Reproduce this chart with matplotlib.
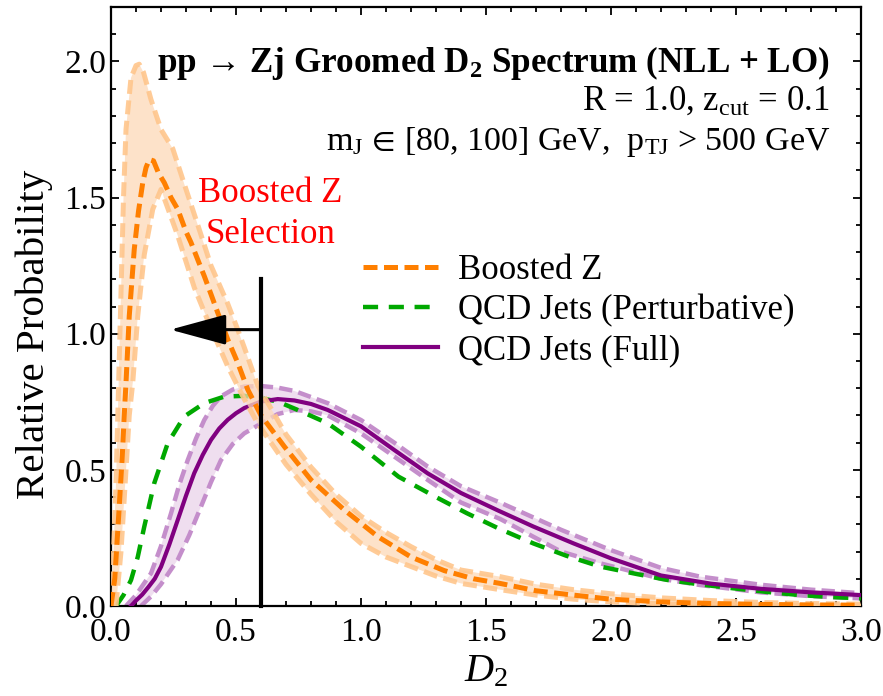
import numpy as np
import matplotlib.pyplot as plt
from matplotlib.ticker import MultipleLocator

plt.rcParams['font.family'] = ['Liberation Serif', 'DejaVu Serif']
plt.rcParams['mathtext.fontset'] = 'custom'
plt.rcParams['mathtext.rm'] = 'Liberation Serif'
plt.rcParams['mathtext.it'] = 'Liberation Serif:italic'
plt.rcParams['mathtext.bf'] = 'Liberation Serif:bold'
plt.rcParams['mathtext.fallback'] = 'stix'

# boosted Z signal: central curve and upper / lower edges of the uncertainty band
z_x = [0.00, 0.015, 0.03, 0.045, 0.053, 0.06, 0.073, 0.093, 0.11, 0.127, 0.14, 0.153, 0.17, 0.19,
       0.213, 0.24, 0.267, 0.30, 0.32, 0.35, 0.373, 0.40, 0.427, 0.467, 0.507, 0.547, 0.60, 0.693,
       0.80, 0.933, 1.067, 1.20, 1.333, 1.45, 1.556, 1.70, 1.85, 2.00, 2.20, 2.40, 2.60, 2.80, 3.00]
z_mid = [0.00, 0.10, 0.32, 0.55, 0.70, 0.82, 1.065, 1.31, 1.45, 1.555, 1.61, 1.64, 1.635, 1.59,
         1.555, 1.50, 1.457, 1.375, 1.335, 1.265, 1.212, 1.145, 1.077, 0.979, 0.893, 0.795, 0.70, 0.586,
         0.463, 0.353, 0.255, 0.18, 0.13, 0.10, 0.083, 0.056, 0.04, 0.025, 0.015, 0.009, 0.006, 0.004, 0.003]

z_up_x = [0.00, 0.01, 0.02, 0.03, 0.04, 0.05, 0.06, 0.08, 0.10, 0.113, 0.13, 0.16, 0.20, 0.247,
          0.293, 0.347, 0.40, 0.467, 0.507, 0.533, 0.587, 0.70, 0.80, 0.90, 1.00, 1.10, 1.20, 1.30,
          1.40, 1.556, 1.70, 1.85, 2.00, 2.20, 2.40, 2.60, 2.80, 3.00]
z_up = [0.00, 0.20, 0.45, 0.80, 1.15, 1.50, 1.75, 1.94, 1.985, 1.99, 1.96, 1.86, 1.75, 1.68,
        1.55, 1.40, 1.25, 1.11, 1.015, 0.95, 0.81, 0.63, 0.51, 0.41, 0.33, 0.27, 0.218, 0.17,
        0.132, 0.108, 0.08, 0.06, 0.045, 0.03, 0.02, 0.013, 0.009, 0.007]

z_lo_x = [0.02, 0.04, 0.06, 0.073, 0.087, 0.107, 0.133, 0.167, 0.20, 0.267, 0.333, 0.40, 0.467,
          0.533, 0.587, 0.70, 0.80, 0.90, 1.00, 1.10, 1.20, 1.30, 1.40, 1.556, 1.70, 1.85, 2.00,
          2.20, 2.40, 2.60, 2.80, 3.00]
z_lo = [0.00, 0.20, 0.50, 0.70, 0.82, 1.065, 1.29, 1.457, 1.53, 1.36, 1.17, 1.02, 0.88,
        0.76, 0.67, 0.52, 0.41, 0.31, 0.23, 0.18, 0.145, 0.11, 0.083, 0.06, 0.04, 0.025, 0.015,
        0.008, 0.004, 0.002, 0.001, 0.0]

# QCD jets, full calculation with band
q_x = [0.08, 0.10, 0.125, 0.15, 0.175, 0.20, 0.233, 0.267, 0.30, 0.333, 0.367, 0.40, 0.433, 0.467,
       0.50, 0.533, 0.60, 0.667, 0.733, 0.80, 0.867, 1.00, 1.133, 1.267, 1.40, 1.55, 1.689, 1.85,
       2.00, 2.20, 2.40, 2.60, 2.80, 3.00]
q_mid = [0.0, 0.02, 0.042, 0.07, 0.10, 0.144, 0.225, 0.316, 0.405, 0.488, 0.555, 0.61, 0.652, 0.684,
         0.708, 0.727, 0.751, 0.76, 0.755, 0.742, 0.72, 0.66, 0.573, 0.487, 0.415, 0.35, 0.292, 0.23,
         0.175, 0.112, 0.082, 0.063, 0.05, 0.04]

q_up_x = [0.06, 0.10, 0.16, 0.20, 0.24, 0.273, 0.307, 0.34, 0.373, 0.407, 0.44, 0.487, 0.533, 0.60,
          0.667, 0.733, 0.867, 1.00, 1.133, 1.267, 1.40, 1.556, 1.80, 2.00, 2.20, 2.356, 2.60,
          2.80, 3.00]
q_up = [0.0, 0.04, 0.12, 0.22, 0.34, 0.445, 0.536, 0.615, 0.683, 0.735, 0.77, 0.795, 0.806, 0.808,
        0.802, 0.79, 0.745, 0.683, 0.60, 0.512, 0.44, 0.38, 0.28, 0.205, 0.14, 0.108, 0.078,
        0.06, 0.047]

q_lo_x = [0.12, 0.16, 0.20, 0.267, 0.313, 0.36, 0.40, 0.44, 0.487, 0.533, 0.60, 0.667, 0.733, 0.80,
          0.867, 1.00, 1.133, 1.267, 1.40, 1.556, 1.80, 1.956, 2.20, 2.356, 2.60, 2.80, 3.00]
q_lo = [0.0, 0.035, 0.08, 0.17, 0.26, 0.365, 0.455, 0.536, 0.595, 0.634, 0.67, 0.705, 0.72, 0.715,
        0.70, 0.634, 0.549, 0.463, 0.38, 0.32, 0.20, 0.157, 0.10, 0.077, 0.05, 0.036, 0.028]

# QCD jets, perturbative only
g_x = [0.02, 0.05, 0.08, 0.107, 0.133, 0.173, 0.227, 0.293, 0.373, 0.453, 0.533, 0.60, 0.667, 0.747,
       0.867, 1.00, 1.15, 1.30, 1.423, 1.55, 1.689, 1.82, 1.956, 2.10, 2.223, 2.35, 2.489, 2.62,
       2.756, 2.88, 3.00]
g_y = [0.0, 0.04, 0.095, 0.18, 0.291, 0.451, 0.598, 0.696, 0.745, 0.769, 0.772, 0.763, 0.751, 0.72,
       0.671, 0.585, 0.475, 0.40, 0.341, 0.285, 0.23, 0.185, 0.145, 0.118, 0.096, 0.08, 0.065,
       0.052, 0.04, 0.033, 0.028]

d2_cut = 0.6

orange = '#ff7f00'
orange_band = '#fdd9b8'
orange_edge = '#ffc68c'
purple = '#800080'
purple_band = '#ebd6eb'
purple_edge = '#c48ecb'
green = '#00a800'

fig = plt.figure(figsize=(8.83, 6.96), dpi=100)
ax = fig.add_axes([111 / 883, 1 - 606 / 696, 750 / 883, 599 / 696])

# QCD band
ax.fill(np.concatenate([q_up_x, q_lo_x[::-1]]), np.concatenate([q_up, q_lo[::-1]]),
        color=purple_band, alpha=0.8, lw=0, zorder=1)
ax.plot(q_up_x, q_up, color=purple_edge, lw=3.2, dashes=(3, 1.4), zorder=2)
ax.plot(q_lo_x, q_lo, color=purple_edge, lw=3.2, dashes=(3, 1.4), zorder=2)

ax.plot(g_x, g_y, color=green, lw=3.2, dashes=(3.4, 2.4), zorder=3, label='QCD Jets (Perturbative)')
ax.plot(q_x, q_mid, color=purple, lw=3.0, zorder=3, label='QCD Jets (Full)')

# signal band, drawn over the QCD curves
ax.fill(np.concatenate([z_up_x, z_lo_x[::-1]]), np.concatenate([z_up, z_lo[::-1]]),
        color=orange_band, alpha=0.75, lw=0, zorder=4)
ax.plot(z_up_x, z_up, color=orange_edge, lw=3.6, dashes=(2.8, 1.3), alpha=0.9, zorder=5)
ax.plot(z_lo_x, z_lo, color=orange_edge, lw=3.6, dashes=(2.8, 1.3), alpha=0.9, zorder=5)
ax.plot(z_x, z_mid, color=orange, lw=3.6, dashes=(2.8, 1.3), zorder=6, label='Boosted Z')

# selection cut and arrow
ax.plot([d2_cut, d2_cut], [0, 1.2], color='black', lw=3.0, zorder=7, clip_on=False)
ax.annotate('', xy=(0.237, 1.015), xytext=(d2_cut, 1.015),
            arrowprops=dict(arrowstyle='-|>,head_length=3.5,head_width=0.95', color='black',
                            lw=2.2, shrinkA=0, shrinkB=0), zorder=7)

ax.text(0.636, 1.485, 'Boosted Z', color='red', fontsize=25, ha='center', va='baseline')
ax.text(0.636, 1.335, 'Selection', color='red', fontsize=25, ha='center', va='baseline')

ax.text(2.876, 1.963, r'pp$\,\rightarrow\,$Zj Groomed D$_\mathbf{2}$ Spectrum (NLL + LO)',
        fontsize=25.2, fontweight='bold', ha='right', va='baseline')
ax.text(2.876, 1.824, r'R = 1.0, z$_\mathrm{cut}$ = 0.1', fontsize=25, ha='right', va='baseline')
ax.text(2.876, 1.676, r'm$_\mathrm{J}\,\in\,$[80, 100] GeV,  p$_\mathrm{TJ}$ > 500 GeV',
        fontsize=24.5, ha='right', va='baseline')

handles, labels = ax.get_legend_handles_labels()
order = [2, 0, 1]
ax.legend([handles[i] for i in order], [labels[i] for i in order], loc='upper left',
          bbox_to_anchor=(0.336, 0.588), frameon=False, fontsize=25, handlelength=2.16,
          handletextpad=0.58, labelspacing=0.2, borderaxespad=0, borderpad=0)

ax.set_xlim(0, 3)
ax.set_ylim(0, 2.2)
ax.xaxis.set_major_locator(MultipleLocator(0.5))
ax.xaxis.set_minor_locator(MultipleLocator(0.1))
ax.yaxis.set_major_locator(MultipleLocator(0.5))
ax.yaxis.set_minor_locator(MultipleLocator(0.1))
ax.xaxis.set_major_formatter(lambda v, p: f'{v:.1f}')
ax.yaxis.set_major_formatter(lambda v, p: f'{v:.1f}')
ax.tick_params(which='both', direction='in', top=True, right=True, width=1.3, labelsize=24)
ax.tick_params(axis='x', pad=8)
ax.tick_params(which='major', length=6)
ax.tick_params(which='minor', length=3.5)
for s in ax.spines.values():
    s.set_linewidth(1.6)

ax.set_xlabel('$D_2$', fontsize=29, labelpad=4)
ax.set_ylabel('Relative Probability', fontsize=29.5)
ax.yaxis.set_label_coords(-0.077, 0.454)

fig.savefig('out.png', dpi=100)
